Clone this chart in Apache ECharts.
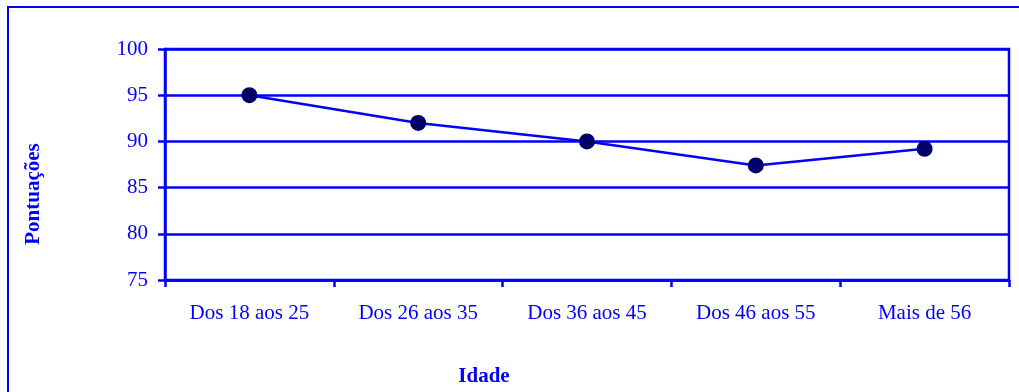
<!DOCTYPE html>
<html><head><meta charset="utf-8">
<script src="https://cdn.jsdelivr.net/npm/echarts@6/dist/echarts.min.js"></script>
<style>html,body{margin:0;padding:0;background:#fff}#c{width:1019px;height:392px}</style>
</head><body><div id="c"></div>
<script>
var categories = ['Dos 18 aos 25','Dos 26 aos 35','Dos 36 aos 45','Dos 46 aos 55','Mais de 56'];
var values = [95, 92, 90, 87.4, 89.2];
var yMin = 75, yMax = 100, yStep = 5;
var xTitle = 'Idade';
var yTitle = 'Pontuações';

var blue = '#0000FF';
var font = '"Liberation Serif", "Times New Roman", serif';
var chart = echarts.init(document.getElementById('c'), null, {renderer:'canvas'});
chart.setOption({
  animation: false,
  backgroundColor: '#fff',
  grid: {left: 165, right: 10, top: 49, bottom: 112, show: true, borderColor: blue, borderWidth: 2.5, backgroundColor: 'transparent'},
  xAxis: {
    type: 'category', data: categories, boundaryGap: true,
    axisLine: {lineStyle: {color: blue, width: 2.5}},
    axisTick: {show: true, length: 7, lineStyle: {color: blue, width: 2.5}, alignWithLabel: false},
    axisLabel: {color: blue, fontFamily: font, fontSize: 21, margin: 23},
    splitLine: {show: false}
  },
  yAxis: {
    type: 'value', min: yMin, max: yMax, interval: yStep,
    axisLine: {show: true, lineStyle: {color: blue, width: 2.5}},
    axisTick: {show: true, length: 7, lineStyle: {color: blue, width: 2.5}},
    axisLabel: {color: blue, fontFamily: font, fontSize: 21, margin: 17},
    splitLine: {show: true, lineStyle: {color: blue, width: 2.5}}
  },
  series: [{
    type: 'line', data: values,
    lineStyle: {color: blue, width: 2.5},
    itemStyle: {color: '#000066', borderWidth: 0},
    symbol: 'circle', symbolSize: 16
  }],
  graphic: [
    {type: 'rect', shape: {x: 8, y: 7, width: 1100, height: 500}, style: {fill: 'none', stroke: blue, lineWidth: 2}, silent: true},
    {type: 'text', x: 484, y: 377, style: {text: xTitle, fill: blue, font: 'bold 21px ' + font, textAlign: 'center', textVerticalAlign: 'middle'}},
    {type: 'text', x: 34, y: 194, rotation: Math.PI/2, style: {text: yTitle, fill: blue, font: 'bold 21px ' + font, textAlign: 'center', textVerticalAlign: 'middle'}}
  ]
});
</script></body></html>
